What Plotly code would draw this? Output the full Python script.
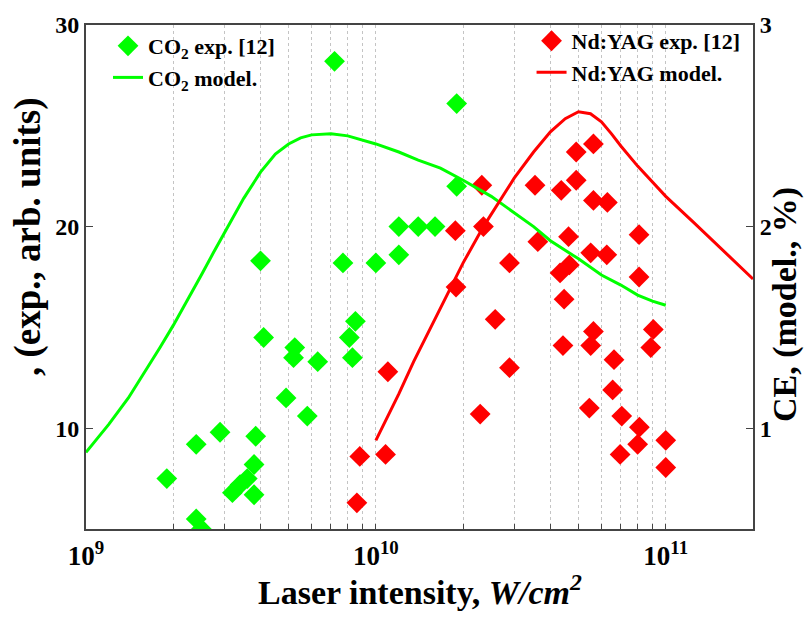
import plotly.graph_objects as go

# ---- data ----
co2_exp_x = [1.9e9, 2.4e9, 2.4e9, 2.5e9, 2.9e9, 3.2e9, 3.4e9, 3.6e9, 3.8e9, 3.8e9,
             3.85e9, 4.0e9, 4.1e9, 4.9e9, 5.2e9, 5.25e9, 5.8e9, 6.3e9, 7.2e9, 7.7e9,
             8.1e9, 8.3e9, 8.5e9, 1.0e10, 1.2e10, 1.2e10, 1.4e10, 1.6e10, 1.9e10, 1.9e10]
co2_exp_y = [7.5, 9.2, 5.5, 5.0, 9.8, 6.8, 7.2, 7.5, 6.7, 8.2,
             9.6, 18.3, 14.5, 11.5, 13.5, 14.0, 10.6, 13.3, 28.2, 18.2,
             14.5, 13.5, 15.3, 18.2, 20.0, 18.6, 20.0, 20.0, 26.1, 22.0]

nd_exp_x = [8.6e9, 8.8e9, 1.08e10, 1.1e10,
            5.63e10, 4.91e10, 2.32e10, 3.54e10, 4.91e10, 4.36e10, 5.63e10, 6.29e10,
            1.88e10, 2.35e10, 3.62e10, 4.62e10, 8.09e10, 5.51e10, 6.26e10, 2.89e10,
            4.65e10, 4.32e10, 8.09e10, 1.89e10, 4.46e10, 2.58e10, 5.63e10, 9.06e10,
            4.42e10, 5.51e10, 8.88e10, 6.63e10, 2.89e10, 6.56e10, 2.29e10, 5.45e10,
            7.05e10, 8.11e10, 8.0e10, 1.0e11, 6.96e10, 1.0e11]
nd_exp_y = [6.3, 8.6, 8.7, 12.8,
            24.1, 23.7, 22.05, 22.05, 22.3, 21.8, 21.3, 21.2,
            19.8, 20.0, 19.25, 19.5, 19.6, 18.7, 18.6, 18.2,
            18.1, 17.7, 17.5, 17.0, 16.4, 15.4, 14.8, 14.9,
            14.1, 14.1, 14.0, 13.4, 13.0, 11.9, 10.7, 11.0,
            10.6, 10.05, 9.2, 9.4, 8.7, 8.05]

co2_model_x = [1e9, 1.2e9, 1.4e9, 1.6e9, 1.8e9, 2e9, 2.25e9, 2.5e9, 2.75e9, 3e9,
               3.5e9, 4e9, 4.5e9, 5e9, 5.5e9, 6e9, 7e9, 8e9, 9e9, 1e10,
               1.2e10, 1.4e10, 1.67e10, 2e10, 2.5e10, 3e10, 3.5e10, 4e10, 5e10, 6e10,
               7e10, 8e10, 9e10, 1e11]
co2_model_ce = [0.88, 1.02, 1.15, 1.28, 1.40, 1.51, 1.64, 1.76, 1.87, 1.97,
                2.14, 2.27, 2.36, 2.41, 2.44, 2.455, 2.46, 2.45, 2.43, 2.41,
                2.37, 2.33, 2.29, 2.23, 2.15, 2.07, 2.0, 1.93, 1.84, 1.76,
                1.71, 1.66, 1.63, 1.61]

nd_model_x = [1e10, 1.1e10, 1.2e10, 1.35e10, 1.5e10, 1.67e10, 1.85e10, 2e10, 2.35e10, 2.7e10,
              3e10, 3.5e10, 4e10, 4.5e10, 5e10, 5.5e10, 6e10, 6.5e10, 7e10, 8e10,
              9e10, 1e11, 1.25e11, 1.5e11, 1.75e11, 2e11]
nd_model_ce = [0.94, 1.06, 1.17, 1.33, 1.46, 1.59, 1.72, 1.82, 2.0, 2.14,
               2.24, 2.37, 2.47, 2.535, 2.57, 2.56, 2.52, 2.46, 2.40, 2.30,
               2.22, 2.15, 2.02, 1.91, 1.82, 1.74]

x_major = [1e9, 1e10, 1e11]
x_major_text = ["<b>10<sup>9</sup></b>", "<b>10<sup>10</sup></b>", "<b>10<sup>11</sup></b>"]
x_minor = [k * d for d in (1e9, 1e10) for k in range(2, 10)]

left_ticks = [10, 20, 30]
right_ticks = [1, 2, 3]

GREEN = "#00ff00"
RED = "#ff0000"
FONT = "Liberation Serif"
AX = "#444444"
GRID = "#c4c4c4"

fig = go.Figure()
fig.add_trace(go.Scatter(x=co2_exp_x, y=co2_exp_y, mode="markers",
                         marker=dict(symbol="diamond", size=16, color=GREEN),
                         name="CO<sub>2</sub> exp. [12]", legend="legend", yaxis="y"))
fig.add_trace(go.Scatter(x=nd_exp_x, y=nd_exp_y, mode="markers",
                         marker=dict(symbol="diamond", size=16, color=RED),
                         name="Nd:YAG exp. [12]", legend="legend2", yaxis="y"))
fig.add_trace(go.Scatter(x=co2_model_x, y=co2_model_ce, mode="lines",
                         line=dict(color=GREEN, width=3),
                         name="CO<sub>2</sub> model.", legend="legend", yaxis="y2"))
fig.add_trace(go.Scatter(x=nd_model_x, y=nd_model_ce, mode="lines",
                         line=dict(color=RED, width=3),
                         name="Nd:YAG model.", legend="legend2", yaxis="y2"))

tickfont = dict(family=FONT, size=24, color="black", weight="bold")

fig.update_layout(
    width=805, height=621,
    margin=dict(l=86, r=52, t=14, b=92),
    paper_bgcolor="white", plot_bgcolor="white",
    font=dict(family=FONT, color="black", weight="bold"),
    xaxis=dict(type="log", range=[9, 11.301],
               tickmode="array", tickvals=x_major, ticktext=x_major_text,
               tickfont=dict(family=FONT, size=27, color="black", weight="bold"),
               ticklabelstandoff=2,
               showgrid=True, gridcolor=GRID, griddash="dot", gridwidth=1,
               ticks="inside", ticklen=5, tickwidth=1.2, tickcolor=AX,
               minor=dict(tickmode="array", tickvals=x_minor, ticks="inside", ticklen=5,
                          tickwidth=1.2, tickcolor=AX,
                          showgrid=True, gridcolor=GRID, griddash="dot", gridwidth=1),
               showline=True, linecolor=AX, linewidth=2, mirror=True, zeroline=False),
    yaxis=dict(range=[5, 30], tickmode="array", tickvals=left_ticks,
               ticktext=[str(v) for v in left_ticks], tickfont=tickfont,
               showgrid=False, zeroline=False, ticks="inside", ticklen=7,
               tickwidth=1.2, tickcolor=AX,
               showline=True, linecolor=AX, linewidth=2),
    yaxis2=dict(range=[0.5, 3], tickmode="array", tickvals=right_ticks,
                ticktext=[str(v) for v in right_ticks], tickfont=tickfont,
                overlaying="y", side="right", showgrid=False, zeroline=False,
                ticks="inside", ticklen=7, tickwidth=1.2, tickcolor=AX,
                showline=True, linecolor=AX, linewidth=2),
    legend=dict(x=0.033, y=1.0, xanchor="left", yanchor="top",
                bgcolor="rgba(0,0,0,0)", borderwidth=0, tracegroupgap=0,
                font=dict(family=FONT, size=22, color="black", weight="bold")),
    legend2=dict(x=0.668, y=1.01, xanchor="left", yanchor="top",
                 bgcolor="rgba(0,0,0,0)", borderwidth=0, tracegroupgap=0,
                 font=dict(family=FONT, size=22, color="black", weight="bold")),
    showlegend=True,
    annotations=[
        dict(text="<b>Laser intensity, <i>W/cm<sup>2</sup></i></b>", xref="paper", yref="paper",
             x=0.5, y=-0.122, xanchor="center", yanchor="middle", showarrow=False,
             font=dict(family=FONT, size=34, color="black", weight="bold")),
        dict(text="<b>, (exp., arb. units)</b>", xref="paper", yref="paper",
             x=-0.088, y=0.58, xanchor="center", yanchor="middle", showarrow=False,
             textangle=-90,
             font=dict(family=FONT, size=37, color="black", weight="bold")),
        dict(text="<b>CE, (model., %)</b>", xref="paper", yref="paper",
             x=1.047, y=0.445, xanchor="center", yanchor="middle", showarrow=False,
             textangle=-90,
             font=dict(family=FONT, size=34, color="black", weight="bold")),
    ],
)

fig.write_html("out.html")
